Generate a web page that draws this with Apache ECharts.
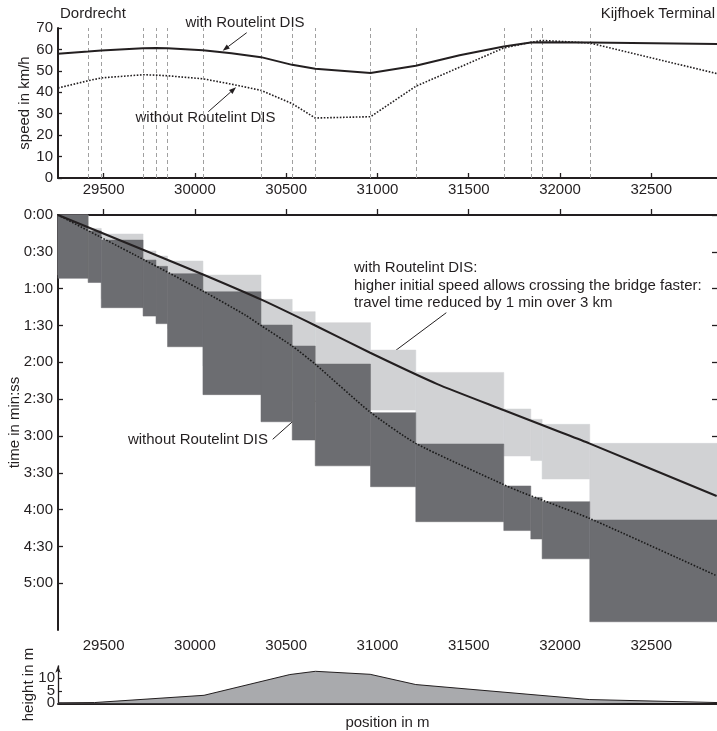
<!DOCTYPE html>
<html>
<head>
<meta charset="utf-8">
<script src="https://cdn.jsdelivr.net/npm/echarts@6/dist/echarts.min.js"></script>
<style>
html,body{margin:0;padding:0;background:#fff;}
#chart{width:717px;height:731px;}
</style>
</head>
<body>
<div id="chart"></div>
<script>
// ---------- data ----------
const xMin = 29250, xMax = 32860;
const xTicks = [29500, 30000, 30500, 31000, 31500, 32000, 32500];
const blockBounds = [29415, 29487, 29716, 29787, 29850, 30044, 30362, 30533, 30659, 30962, 31210, 31692, 31840, 31902, 32163];

// speed profile (km/h)
const speedPos     = [29250, 29415, 29487, 29716, 29787, 29850, 30044, 30200, 30362, 30533, 30659, 30962, 31210, 31450, 31692, 31840, 31902, 32163, 32860];
const speedWith    = [58.0, 59.0, 59.5, 60.5, 60.7, 60.6, 59.6, 58.2, 56.4, 52.8, 51.0, 49.0, 52.4, 57.3, 61.4, 63.2, 63.4, 63.2, 62.5];
const speedWithout = [42.0, 45.4, 46.7, 48.2, 48.0, 47.7, 46.3, 43.8, 40.9, 34.7, 28.0, 28.6, 42.8, 51.7, 60.7, 63.3, 64.2, 63.0, 48.7];

// block occupation (seconds) per block section
const occWithStart    = [0, 10.9, 15.5, 29.3, 33.4, 37.5, 48.9, 68.7, 78.7, 87.7, 110, 128.2, 158, 166.4, 170.5, 186];
const occWithEnd      = [49, 51, 68, 73.4, 78, 92.5, 123, 140, 151.5, 150, 158.8, 189, 196.3, 200, 215, 248.4];
const occWithoutStart = [0, 13, 20.4, 36.7, 41.8, 47.8, 62.5, 89.6, 106.7, 121.4, 161, 186.5, 220.7, 230, 233.5, 248.4];
const occWithoutEnd   = [51.6, 55, 75.5, 82.3, 88.5, 107.3, 146.3, 168.4, 183.3, 204.3, 221.3, 249.8, 257, 263.9, 280, 331.3];

// time-distance paths (seconds)
const travelPosWith     = [29250, 29719, 30051, 30367, 30659, 30960, 31325, 31690, 32000, 32160, 32858];
const travelTimeWith    = [0, 28.5, 48.9, 69.2, 90, 112.2, 137.5, 158.8, 176.7, 186, 228.9];
const travelPosWithout  = [29250, 29719, 30051, 30276, 30367, 30531, 30659, 30960, 31210, 31690, 31781, 32160, 32858];
const travelTimeWithout = [0, 36.3, 62.5, 81.5, 90.5, 106.5, 121.5, 160.5, 186, 219.5, 225.3, 247, 293.8];
const timeTicks = [0, 30, 60, 90, 120, 150, 180, 210, 240, 270, 300];

// height profile (m)
const heightPos = [29250, 29450, 30050, 30520, 30660, 30960, 31210, 32160, 32860];
const heightVal = [0.2, 0.3, 3.2, 11.5, 12.8, 11.6, 7.5, 1.5, 0.3];
const heightTicks = [0, 5, 10];

// ---------- build ----------
const FONT = '"Liberation Sans", Arial, Helvetica, sans-serif';
const INK = '#231f20';
const LIGHT = '#d1d2d4';
const DARK = '#6c6d71';
const zip = (a, b) => a.map((v, i) => [v, b[i]]);
const edges = [xMin, ...blockBounds, xMax];
const rects = (s, e) => edges.slice(0, -1).map((x0, i) => [x0, edges[i + 1], s[i], e[i]]);
const fmtTime = v => Math.floor(v / 60) + ':' + String(Math.round(v % 60)).padStart(2, '0');
const fmtNum = v => String(v);

function rectRender(color) {
  return function (params, api) {
    const p0 = api.coord([api.value(0), api.value(2)]);
    const p1 = api.coord([api.value(1), api.value(3)]);
    return {
      type: 'rect',
      shape: { x: p0[0], y: Math.min(p0[1], p1[1]), width: p1[0] - p0[0], height: Math.abs(p1[1] - p0[1]) },
      style: { fill: color, stroke: color, lineWidth: 0.5 }
    };
  };
}

function arrow(x1, y1, x2, y2) {
  const a = Math.atan2(y2 - y1, x2 - x1);
  const L = 7, W = 2.6;
  const bx = x2 - L * Math.cos(a), by = y2 - L * Math.sin(a);
  return [
    { type: 'line', silent: true, shape: { x1, y1, x2: bx, y2: by }, style: { stroke: INK, lineWidth: 1 } },
    { type: 'polygon', silent: true, shape: { points: [[x2, y2], [bx + W * Math.sin(a), by - W * Math.cos(a)], [bx - W * Math.sin(a), by + W * Math.cos(a)]] }, style: { fill: INK } }
  ];
}
function txt(text, x, y, align) {
  return { type: 'text', silent: true, x, y, style: { text, fill: INK, font: '15px ' + FONT, align: align || 'left', verticalAlign: 'middle' } };
}

const axisTextStyle = { color: INK, fontSize: 15, fontFamily: FONT };
const blackLine = w => ({ show: true, lineStyle: { color: INK, width: w } });
const lbl = extra => Object.assign({ hideOverlap: false, showMinLabel: true, showMaxLabel: true }, axisTextStyle, extra);
const nameOpts = (name, gap) => ({ name, nameLocation: 'middle', nameGap: gap, nameMoveOverlap: false, nameTextStyle: axisTextStyle });

const chart = echarts.init(document.getElementById('chart'), null, { renderer: 'canvas' });
chart.setOption({
  animation: false,
  backgroundColor: '#fff',
  textStyle: { fontFamily: FONT },
  grid: [
    { left: 58, right: 0, top: 28, height: 150, containLabel: false, outerBoundsMode: 'none' },
    { left: 58, right: 0, top: 215, height: 415, containLabel: false, outerBoundsMode: 'none' },
    { left: 58, right: 0, top: 665.8, height: 37.5, containLabel: false, outerBoundsMode: 'none' }
  ],
  xAxis: [
    { gridIndex: 0, type: 'value', min: xMin, max: xMax, axisLine: blackLine(2),
      axisTick: { inside: true, length: 5, customValues: xTicks, lineStyle: { color: INK, width: 1.3 } },
      axisLabel: lbl({ customValues: xTicks, margin: 4, formatter: fmtNum }), splitLine: { show: false } },
    { gridIndex: 1, type: 'value', min: xMin, max: xMax, axisLine: blackLine(2),
      axisTick: { inside: true, length: 6, customValues: xTicks, lineStyle: { color: INK, width: 1.3 } },
      axisLabel: lbl({ customValues: xTicks, margin: 8, formatter: fmtNum }), splitLine: { show: false } },
    { gridIndex: 1, type: 'value', position: 'top', min: xMin, max: xMax, axisLine: blackLine(1.5),
      axisTick: { show: false }, axisLabel: { show: false }, splitLine: { show: false } },
    Object.assign({ gridIndex: 2, type: 'value', min: xMin, max: xMax, axisLine: blackLine(2),
      axisTick: { show: false }, axisLabel: { show: false }, splitLine: { show: false } }, nameOpts('position in m', 12))
  ],
  yAxis: [
    Object.assign({ gridIndex: 0, type: 'value', min: 0, max: 70, interval: 10, axisLine: blackLine(2),
      axisTick: { inside: true, length: 4, lineStyle: { color: INK, width: 1.3 } },
      axisLabel: lbl({ margin: 5, formatter: fmtNum }), splitLine: { show: false } }, nameOpts('speed in km/h', 26)),
    Object.assign({ gridIndex: 1, type: 'value', inverse: true, min: 0, max: 338, axisLine: blackLine(2),
      axisTick: { inside: true, length: 5, customValues: timeTicks, lineStyle: { color: INK, width: 1.3 } },
      axisLabel: lbl({ customValues: timeTicks, margin: 5, formatter: fmtTime }),
      splitLine: { show: false } }, nameOpts('time in min:ss', 36)),
    { gridIndex: 1, type: 'value', inverse: true, min: 0, max: 338, position: 'right', axisLine: { show: false },
      axisTick: { show: true, inside: true, length: 5, customValues: timeTicks, lineStyle: { color: INK, width: 1.3 } },
      axisLabel: { show: false }, splitLine: { show: false } },
    Object.assign({ gridIndex: 2, type: 'value', position: 'left', min: 0, max: 15,
      axisLine: { show: true, symbol: ['none', 'arrow'], symbolSize: [4, 7], lineStyle: { color: INK, width: 1.3 } },
      axisTick: { inside: true, length: 4, customValues: heightTicks, lineStyle: { color: INK, width: 1.2 } },
      axisLabel: lbl({ customValues: heightTicks.filter((v, i) => i !== 1), margin: 3, formatter: fmtNum }),
      splitLine: { show: false } }, nameOpts('height in m', 22)),
    { gridIndex: 2, type: 'value', position: 'left', offset: 0, min: 0, max: 15, axisLine: { show: false }, axisTick: { show: false },
      axisLabel: lbl({ customValues: heightTicks.filter((v, i) => i === 1), margin: 3, formatter: fmtNum }),
      splitLine: { show: false } }
  ],
  series: [
    { type: 'line', xAxisIndex: 0, yAxisIndex: 0, data: zip(speedPos, speedWithout), symbol: 'none', z: 4,
      lineStyle: { color: INK, width: 1.6, type: [1.6, 1.6] },
      markLine: { silent: true, symbol: 'none', label: { show: false },
        lineStyle: { color: '#a0a0a0', width: 1, type: [4, 3] },
        data: blockBounds.map(x => ({ xAxis: x })) } },
    { type: 'line', xAxisIndex: 0, yAxisIndex: 0, data: zip(speedPos, speedWith), symbol: 'none', z: 5,
      lineStyle: { color: INK, width: 2 } },
    { type: 'custom', xAxisIndex: 1, yAxisIndex: 1, renderItem: rectRender(LIGHT), z: 1,
      encode: { x: [0, 1], y: [2, 3] }, data: rects(occWithStart, occWithEnd) },
    { type: 'custom', xAxisIndex: 1, yAxisIndex: 1, renderItem: rectRender(DARK), z: 2,
      encode: { x: [0, 1], y: [2, 3] }, data: rects(occWithoutStart, occWithoutEnd) },
    { type: 'line', xAxisIndex: 1, yAxisIndex: 1, data: zip(travelPosWithout, travelTimeWithout), symbol: 'none', z: 5,
      smooth: 0.2, lineStyle: { color: '#1a1a1a', width: 1.6, type: [1.6, 1.6] } },
    { type: 'line', xAxisIndex: 1, yAxisIndex: 1, data: zip(travelPosWith, travelTimeWith), symbol: 'none', z: 6,
      smooth: 0.2, lineStyle: { color: INK, width: 2 } },
    { type: 'line', xAxisIndex: 3, yAxisIndex: 3, data: zip(heightPos, heightVal), symbol: 'none', z: 3,
      lineStyle: { color: INK, width: 1 }, areaStyle: { color: '#a9aaad', opacity: 1 } }
  ],
  graphic: [
    txt('Dordrecht', 60, 14),
    txt('Kijfhoek Terminal', 715, 14, 'right'),
    txt('with Routelint DIS', 245, 23, 'center'),
    ...arrow(246.7, 32.7, 222.7, 50.7),
    txt('without Routelint DIS', 205.5, 118, 'center'),
    ...arrow(208.3, 111.7, 236, 87.3),
    txt('with Routelint DIS:', 354, 268),
    txt('higher initial speed allows crossing the bridge faster:', 354, 286),
    txt('travel time reduced by 1 min over 3 km', 354, 303),
    ...arrow(446.3, 312.7, 387.3, 356.7),
    txt('without Routelint DIS', 268, 440, 'right'),
    ...arrow(272.7, 439.3, 331.7, 386.7)
  ]
});
</script>
</body>
</html>
